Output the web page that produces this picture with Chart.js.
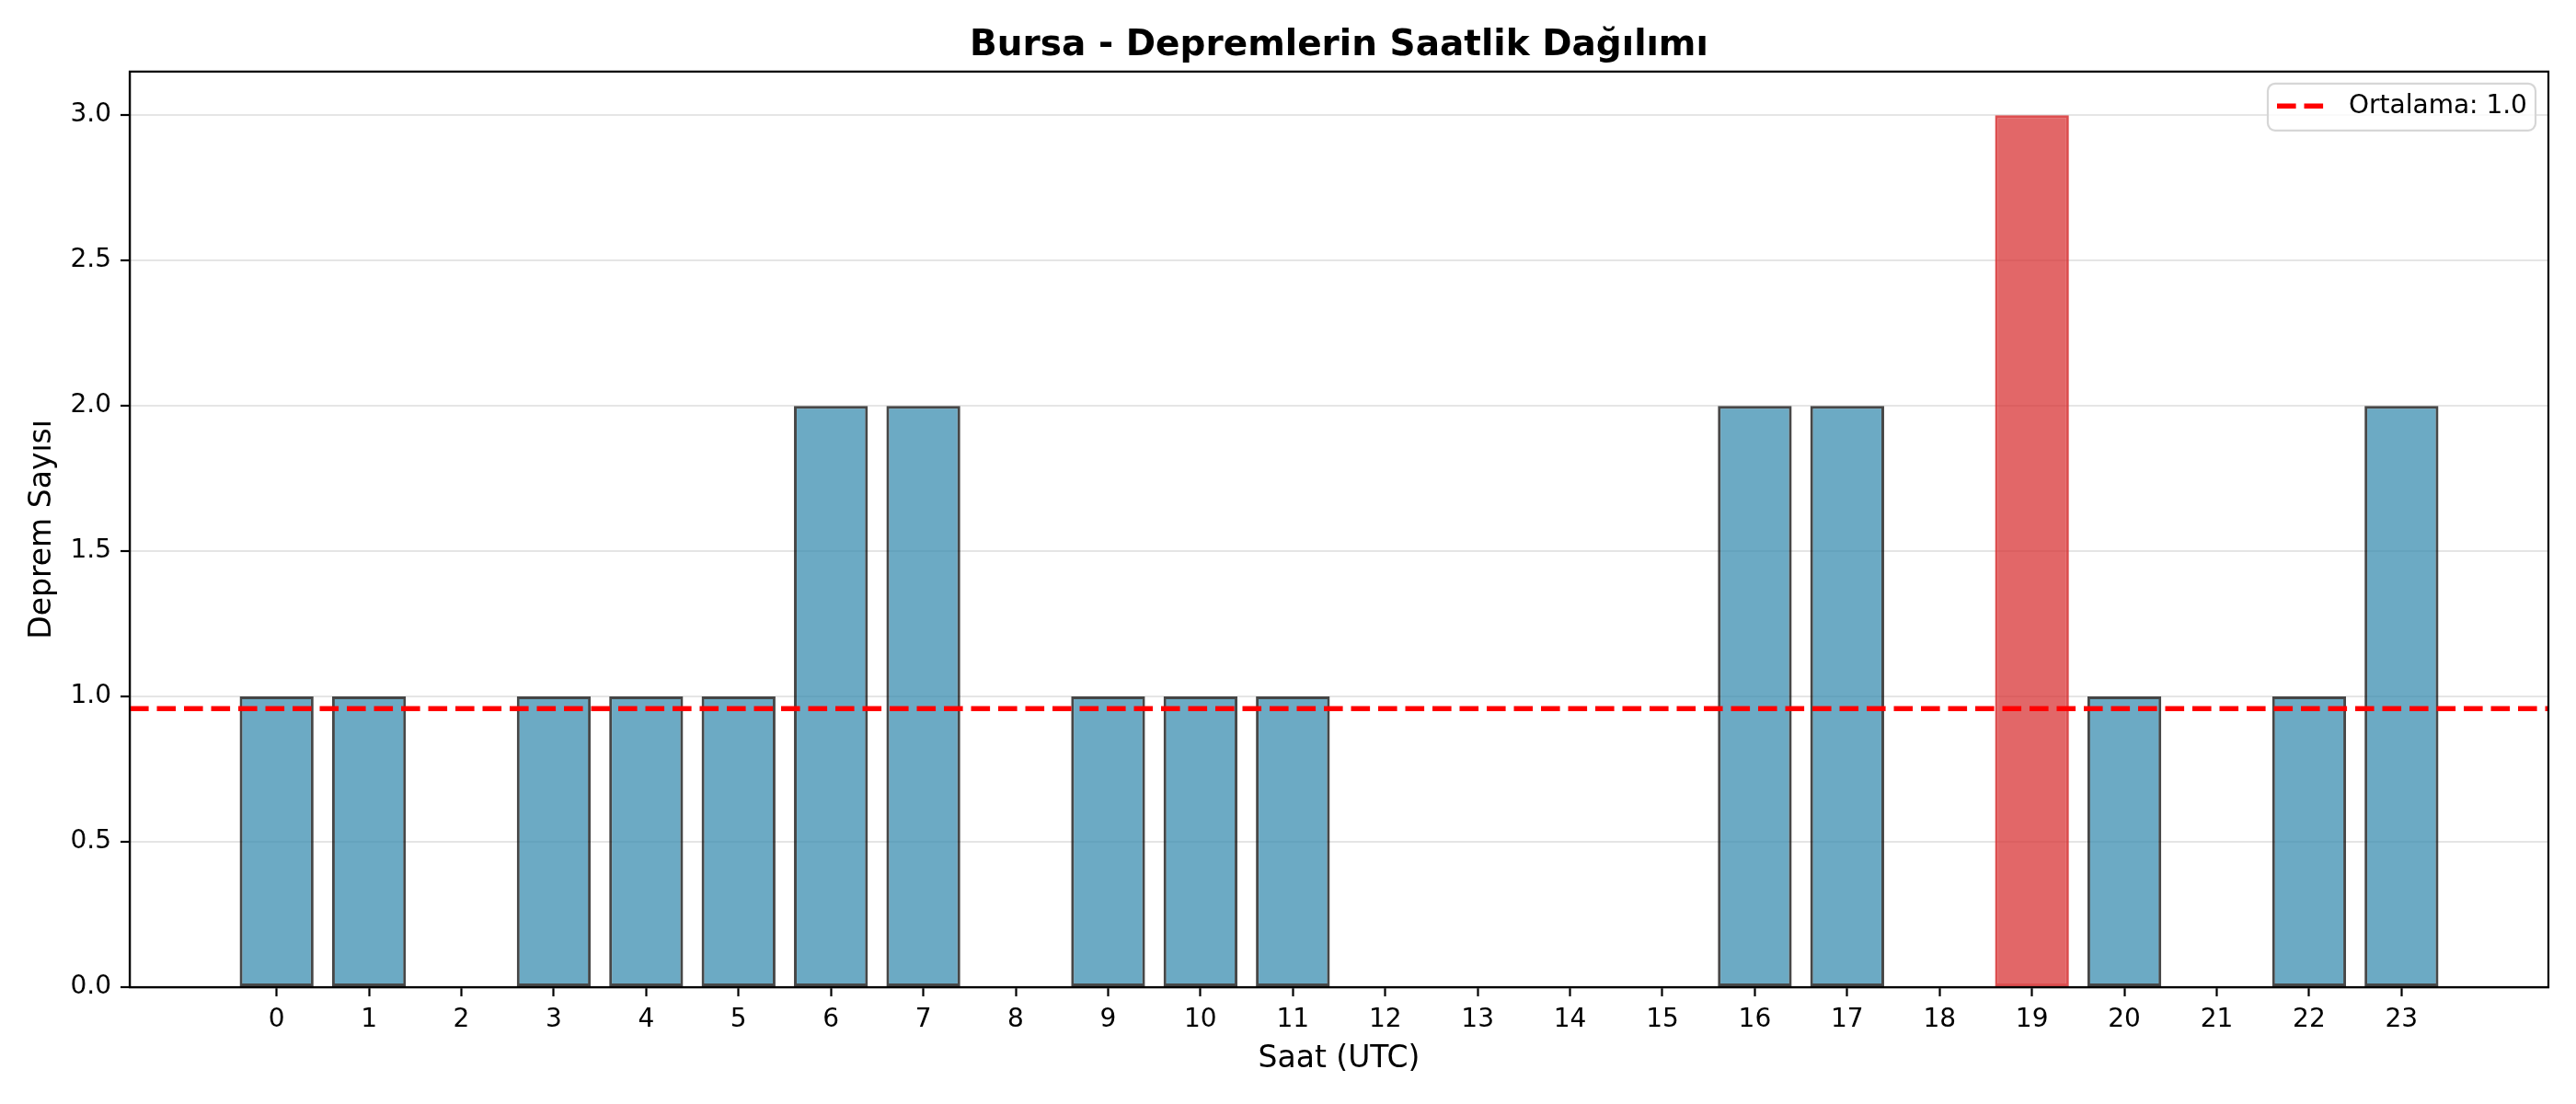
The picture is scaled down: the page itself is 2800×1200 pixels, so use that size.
<!DOCTYPE html>
<html>
<head>
<meta charset="utf-8">
<script src="https://cdn.jsdelivr.net/npm/chart.js@4.4.0/dist/chart.umd.min.js"></script>
<style>
html,body{margin:0;padding:0;background:#ffffff;}
#wrap{width:2800px;height:1200px;}
canvas{display:block;}
</style>
</head>
<body>
<div id="wrap"><canvas id="c" width="2800" height="1200"></canvas></div>
<script>
// ---- data ----
const hours = [0,1,2,3,4,5,6,7,8,9,10,11,12,13,14,15,16,17,18,19,20,21,22,23];
const counts = [1,1,0,1,1,1,2,2,0,1,1,1,0,0,0,0,2,2,0,3,1,0,1,2];
const yTickValues = [0,0.5,1.0,1.5,2.0,2.5,3.0];
const titleText = 'Bursa - Depremlerin Saatlik Dağılımı';
const xTitleText = 'Saat (UTC)';
const yTitleText = 'Deprem Sayısı';
const meanLabelText = 'Ortalama';

// ---- derived ----
const meanValue = counts.reduce((a,b)=>a+b,0) / counts.length;
const maxCount = Math.max(...counts);
const barFrac = 0.8;
const xSpan = (hours[hours.length-1] - hours[0]) + barFrac;
const xMin = hours[0] - barFrac/2 - 0.05*xSpan;
const xMax = hours[hours.length-1] + barFrac/2 + 0.05*xSpan;
const yMax = maxCount * 1.05;

const BLUE = 'rgba(46,134,171,0.7)';
const BLUE_EDGE = 'rgba(0,0,0,0.72)';
const RED = 'rgba(214,39,40,0.7)';
const RED_EDGE = 'rgba(214,39,40,0.82)';
const FONT = 'DejaVu Sans';

Chart.defaults.font.family = FONT;
Chart.defaults.color = '#000000';

const frameAndLegend = {
  id: 'frameAndLegend',
  afterDraw(chart) {
    const ctx = chart.ctx;
    const a = chart.chartArea;
    ctx.save();
    // axes frame
    ctx.strokeStyle = '#000000';
    ctx.lineWidth = 2.2;
    ctx.strokeRect(a.left, a.top, a.right - a.left, a.bottom - a.top);
    // legend box
    const bw = 291, bh = 51;
    const bx = a.right - 14 - bw, by = a.top + 13;
    const r = 8;
    ctx.beginPath();
    ctx.moveTo(bx + r, by);
    ctx.lineTo(bx + bw - r, by);
    ctx.arcTo(bx + bw, by, bx + bw, by + r, r);
    ctx.lineTo(bx + bw, by + bh - r);
    ctx.arcTo(bx + bw, by + bh, bx + bw - r, by + bh, r);
    ctx.lineTo(bx + r, by + bh);
    ctx.arcTo(bx, by + bh, bx, by + bh - r, r);
    ctx.lineTo(bx, by + r);
    ctx.arcTo(bx, by, bx + r, by, r);
    ctx.closePath();
    ctx.fillStyle = 'rgba(255,255,255,0.8)';
    ctx.fill();
    ctx.strokeStyle = '#d6d6d6';
    ctx.lineWidth = 2.2;
    ctx.stroke();
    // dashed sample
    const cy = by + bh/2 - 1;
    ctx.beginPath();
    ctx.setLineDash([20.6, 8.9]);
    ctx.lineCap = 'butt';
    ctx.strokeStyle = '#ff0000';
    ctx.lineWidth = 5.6;
    ctx.moveTo(bx + 10, cy);
    ctx.lineTo(bx + 10 + 55.6, cy);
    ctx.stroke();
    ctx.setLineDash([]);
    // text
    ctx.fillStyle = '#000000';
    ctx.font = '28px "' + FONT + '"';
    ctx.textBaseline = 'middle';
    ctx.textAlign = 'left';
    ctx.fillText(meanLabelText + ': ' + meanValue.toFixed(1), bx + 88, cy);
    ctx.restore();
  }
};

new Chart(document.getElementById('c'), {
  type: 'bar',
  data: {
    datasets: [
      {
        type: 'line',
        label: meanLabelText,
        data: [{x: xMin, y: meanValue}, {x: xMax, y: meanValue}],
        borderColor: '#ff0000',
        borderWidth: 5.6,
        borderDash: [20.6, 8.9],
        pointRadius: 0,
        fill: false,
        order: 0
      },
      {
        type: 'bar',
        label: 'Deprem',
        data: hours.map((h, i) => ({x: h, y: counts[i]})),
        backgroundColor: counts.map(v => v === maxCount ? RED : BLUE),
        borderColor: counts.map(v => v === maxCount ? RED_EDGE : BLUE_EDGE),
        borderWidth: 3,
        borderSkipped: false,
        barPercentage: barFrac,
        categoryPercentage: 1.0,
        order: 1
      }
    ]
  },
  options: {
    responsive: false,
    devicePixelRatio: 1,
    animation: false,
    layout: {padding: {left: 0, right: 30, top: 0, bottom: 0}},
    plugins: {
      legend: {display: false},
      tooltip: {enabled: false},
      title: {
        display: true,
        text: titleText,
        fullSize: false,
        color: '#000000',
        font: {family: FONT, size: 39, weight: 'bold', lineHeight: 1.2},
        padding: {top: 26, bottom: 5}
      }
    },
    scales: {
      x: {
        type: 'linear',
        min: xMin,
        max: xMax,
        offset: false,
        afterBuildTicks: s => { s.ticks = hours.map(h => ({value: h})); },
        afterFit: s => { s.height = 127; },
        grid: {offset: false, drawOnChartArea: false, drawTicks: true, tickLength: 10, tickWidth: 2.2, tickColor: '#000000'},
        border: {display: true, color: '#000000', width: 2.2},
        ticks: {
          autoSkip: false, maxRotation: 0, padding: 9, color: '#000000',
          font: {family: FONT, size: 28},
          callback: v => String(v)
        },
        title: {
          display: true, text: xTitleText, color: '#000000',
          font: {family: FONT, size: 33, lineHeight: 1.2},
          padding: {top: 0, bottom: 29}
        }
      },
      y: {
        min: 0,
        max: yMax,
        z: 1,
        afterBuildTicks: s => { s.ticks = yTickValues.map(v => ({value: v})); },
        afterFit: s => { s.width = 141; },
        grid: {color: 'rgba(0,0,0,0.1)', lineWidth: 2, drawTicks: true, tickLength: 10, tickWidth: 2.2, tickColor: '#000000'},
        border: {display: true, color: '#000000', width: 2.2},
        ticks: {
          padding: 10, color: '#000000',
          font: {family: FONT, size: 28},
          callback: v => Number(v).toFixed(1)
        },
        title: {
          display: true, text: yTitleText, color: '#000000',
          font: {family: FONT, size: 33, lineHeight: 1.2},
          padding: {top: 27, bottom: 0}
        }
      }
    }
  },
  plugins: [frameAndLegend]
});
</script>
</body>
</html>
